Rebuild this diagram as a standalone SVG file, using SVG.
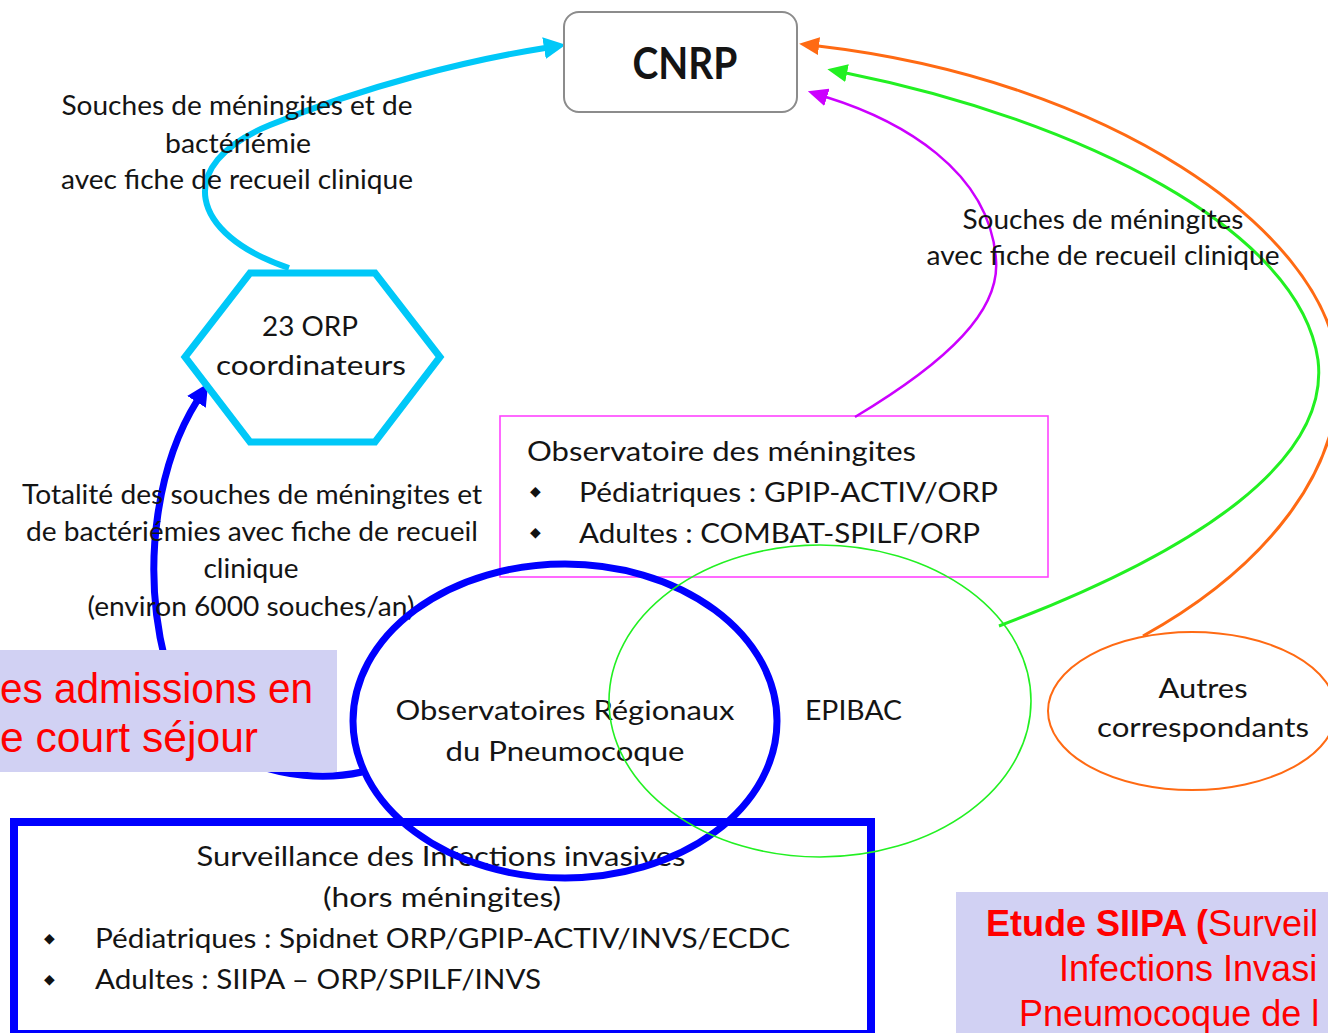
<svg xmlns="http://www.w3.org/2000/svg" width="1328" height="1033" viewBox="0 0 1328 1033">
<style>
  .t { font-family: Lato, "Liberation Sans", sans-serif; fill: #141414; }
  .m { text-anchor: middle; }
  .s26 { font-size: 26px; }
  .s28 { font-size: 27px; }
  .bul { font-family: "DejaVu Sans", sans-serif; font-size: 14px; fill: #111; }
  .red { font-family: "Liberation Sans", Arial, sans-serif; fill: #FF0000; }
  .lav { fill: #D1D1F3; }
</style>
<defs>
  <marker id="ahCyan" markerUnits="userSpaceOnUse" markerWidth="22" markerHeight="22" viewBox="0 0 22 22" refX="1" refY="11" orient="auto">
    <path d="M0,0 L22,11 L0,22 z" fill="#00C8F8"/>
  </marker>
  <marker id="ahBlue" markerUnits="userSpaceOnUse" markerWidth="22" markerHeight="22" viewBox="0 0 22 22" refX="1" refY="11" orient="auto">
    <path d="M0,0 L22,11 L0,22 z" fill="#0000FF"/>
  </marker>
  <marker id="ahOrange" markerUnits="userSpaceOnUse" markerWidth="20" markerHeight="18" viewBox="0 0 20 18" refX="1" refY="9" orient="auto">
    <path d="M0,0 L20,9 L0,18 z" fill="#FF6A13"/>
  </marker>
  <marker id="ahGreen" markerUnits="userSpaceOnUse" markerWidth="20" markerHeight="18" viewBox="0 0 20 18" refX="1" refY="9" orient="auto">
    <path d="M0,0 L20,9 L0,18 z" fill="#22F022"/>
  </marker>
  <marker id="ahPurple" markerUnits="userSpaceOnUse" markerWidth="20" markerHeight="18" viewBox="0 0 20 18" refX="1" refY="9" orient="auto">
    <path d="M0,0 L20,9 L0,18 z" fill="#CC00FF"/>
  </marker>
</defs>
<rect width="1328" height="1033" fill="#FFFFFF"/>

<!-- Bottom surveillance box -->
<g id="node-surveillance">
  <rect x="14" y="822" width="857" height="212" fill="#FFFFFF" stroke="#0000FF" stroke-width="8"/>
  <text class="t m s28" x="441" y="866" textLength="489" lengthAdjust="spacingAndGlyphs">Surveillance des Infections invasives</text>
  <text class="t m s28" x="442" y="907" textLength="238" lengthAdjust="spacingAndGlyphs">(hors méningites)</text>
  <text class="bul" x="44" y="943">◆</text>
  <text class="t s28" x="95" y="948" textLength="695" lengthAdjust="spacingAndGlyphs">Pédiatriques : Spidnet ORP/GPIP-ACTIV/INVS/ECDC</text>
  <text class="bul" x="44" y="984">◆</text>
  <text class="t s28" x="95" y="989" textLength="446" lengthAdjust="spacingAndGlyphs">Adultes : SIIPA – ORP/SPILF/INVS</text>
</g>

<!-- Observatoire des méningites box -->
<g id="node-meningites">
  <rect x="500" y="416" width="548" height="161" fill="none" stroke="#FF44FF" stroke-width="1.6"/>
  <text class="t s28" x="527" y="461" textLength="389" lengthAdjust="spacingAndGlyphs">Observatoire des méningites</text>
  <text class="bul" x="530" y="496">◆</text>
  <text class="t s28" x="579" y="502" textLength="419" lengthAdjust="spacingAndGlyphs">Pédiatriques : GPIP-ACTIV/ORP</text>
  <text class="bul" x="530" y="537">◆</text>
  <text class="t s28" x="579" y="543" textLength="401" lengthAdjust="spacingAndGlyphs">Adultes : COMBAT-SPILF/ORP</text>
</g>

<!-- Connectors -->
<g id="connectors" fill="none">
  <path id="c-orp-cnrp" d="M 289 268 C 190 235, 172 165, 270 125 S 470 60, 545 48" stroke="#00C8F8" stroke-width="6" marker-end="url(#ahCyan)"/>
  <path id="c-obs-orp" d="M 362 772 C 290 788, 185 760, 165 660 C 140 560, 160 460, 197 401" stroke="#0000FF" stroke-width="7" marker-end="url(#ahBlue)"/>
  <path id="c-autres-cnrp" d="M 1143 636 C 1262 570, 1348 470, 1337 360 C 1322 230, 1110 80, 818 46" stroke="#FF6A13" stroke-width="3" marker-end="url(#ahOrange)"/>
  <path id="c-epibac-cnrp" d="M 999 626 C 1200 550, 1330 460, 1318 360 C 1300 230, 1080 120, 846 73" stroke="#22F022" stroke-width="3" marker-end="url(#ahGreen)"/>
  <path id="c-men-cnrp" d="M 855 417 C 950 360, 1000 310, 996 260 C 990 170, 900 120, 826 97" stroke="#CC00FF" stroke-width="2.5" marker-end="url(#ahPurple)"/>
</g>

<!-- Connector labels -->
<g id="labels">
  <text class="t m s26" x="237" y="115" textLength="351" lengthAdjust="spacingAndGlyphs">Souches de méningites et de</text>
  <text class="t m s26" x="238" y="153" textLength="146" lengthAdjust="spacingAndGlyphs">bactériémie</text>
  <text class="t m s26" x="237" y="189" textLength="352" lengthAdjust="spacingAndGlyphs">avec fiche de recueil clinique</text>

  <text class="t m s26" x="1103" y="229" textLength="281" lengthAdjust="spacingAndGlyphs">Souches de méningites</text>
  <text class="t m s26" x="1103" y="265" textLength="353" lengthAdjust="spacingAndGlyphs">avec fiche de recueil clinique</text>

  <text class="t m s26" x="252" y="504" textLength="460" lengthAdjust="spacingAndGlyphs">Totalité des souches de méningites et</text>
  <text class="t m s26" x="252" y="541" textLength="452" lengthAdjust="spacingAndGlyphs">de bactériémies avec fiche de recueil</text>
  <text class="t m s26" x="251" y="578" textLength="95" lengthAdjust="spacingAndGlyphs">clinique</text>
  <text class="t m s26" x="251" y="616" textLength="327" lengthAdjust="spacingAndGlyphs">(environ 6000 souches/an)</text>
</g>

<!-- Observatoires Régionaux (blue circle) -->
<g id="node-orp-obs">
  <ellipse cx="565" cy="721" rx="212" ry="157" fill="none" stroke="#0000FF" stroke-width="7"/>
  <text class="t m s28" x="565" y="720" textLength="339" lengthAdjust="spacingAndGlyphs">Observatoires Régionaux</text>
  <text class="t m s28" x="565" y="761" textLength="239" lengthAdjust="spacingAndGlyphs">du Pneumocoque</text>
</g>

<!-- EPIBAC -->
<g id="node-epibac">
  <ellipse cx="820" cy="701" rx="211" ry="156" fill="none" stroke="#22F022" stroke-width="1.6"/>
  <text class="t s28" x="805" y="720" textLength="97" lengthAdjust="spacingAndGlyphs">EPIBAC</text>
</g>

<!-- Autres correspondants -->
<g id="node-autres">
  <ellipse cx="1192" cy="711" rx="144" ry="79" fill="none" stroke="#FF6A13" stroke-width="2"/>
  <text class="t m s28" x="1203" y="698" textLength="89" lengthAdjust="spacingAndGlyphs">Autres</text>
  <text class="t m s28" x="1203" y="737" textLength="212" lengthAdjust="spacingAndGlyphs">correspondants</text>
</g>

<!-- 23 ORP coordinateurs -->
<g id="node-orp">
  <polygon points="250,273 375,273 440,357 375,442 250,442 185,357" fill="#FFFFFF" stroke="#00C8F8" stroke-width="7"/>
  <text class="t m s28" x="310" y="336" textLength="96" lengthAdjust="spacingAndGlyphs">23 ORP</text>
  <text class="t m s28" x="311" y="375" textLength="190" lengthAdjust="spacingAndGlyphs">coordinateurs</text>
</g>

<!-- CNRP -->
<g id="node-cnrp">
  <rect x="564" y="12" width="233" height="100" rx="15" ry="15" fill="#FFFFFF" stroke="#8C8C8C" stroke-width="2"/>
  <text class="t m" x="685" y="79" font-size="44" font-weight="700" textLength="105" lengthAdjust="spacingAndGlyphs">CNRP</text>
</g>

<!-- Lavender overlay (left) -->
<g id="note-admissions">
  <rect class="lav" x="0" y="650" width="337" height="122"/>
  <text class="red" x="0" y="703" font-size="42" textLength="313" lengthAdjust="spacingAndGlyphs">es admissions en</text>
  <text class="red" x="0" y="752" font-size="42" textLength="258" lengthAdjust="spacingAndGlyphs">e court séjour</text>
</g>

<!-- Lavender overlay (bottom right) -->
<g id="note-siipa">
  <rect class="lav" x="956" y="892" width="372" height="141"/>
  <text class="red" x="986" y="936" font-size="36"><tspan font-weight="700">Etude SIIPA (</tspan>Surveil</text>
  <text class="red" x="1059" y="981" font-size="36">Infections Invasi</text>
  <text class="red" x="1019" y="1026" font-size="36">Pneumocoque de l</text>
</g>
</svg>
